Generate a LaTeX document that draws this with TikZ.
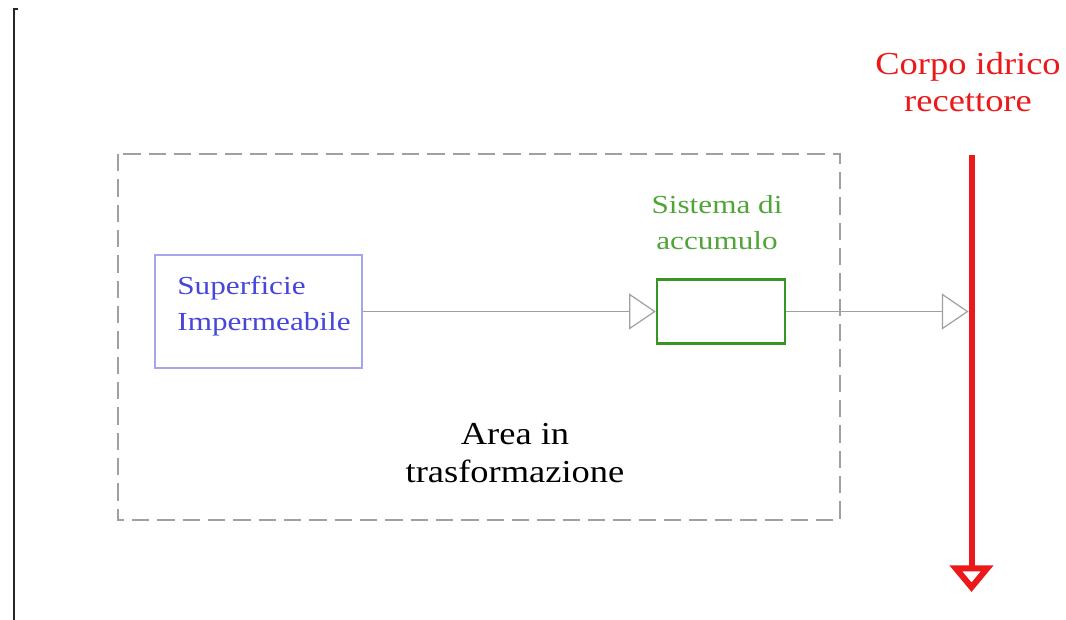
\documentclass[tikz,border=0pt]{standalone}
\usepackage{fontspec}
\setmainfont{Liberation Serif}
\usetikzlibrary{arrows.meta}
\definecolor{bluetxt}{RGB}{70,70,220}
\definecolor{bluebox}{RGB}{165,165,235}
\definecolor{greentxt}{RGB}{80,165,55}
\definecolor{greenbox}{RGB}{55,150,35}
\definecolor{redc}{RGB}{235,25,25}
\definecolor{grayline}{RGB}{160,160,160}
\newcommand\wideA[1]{\scalebox{1.2}[1]{#1}}
\newcommand\wideB[1]{\scalebox{1.14}[1]{#1}}
\begin{document}
\begin{tikzpicture}[x=0.75pt,y=-0.75pt,
  smalltxt/.style={font=\fontsize{19.5}{27}\selectfont, inner sep=0pt},
  bigtxt/.style={font=\fontsize{24}{28}\selectfont, inner sep=0pt, align=center},
  flow/.style={draw=grayline, line width=0.9pt,
    -{Triangle[open, length=20pt, width=27pt, line width=0.9pt]}},
]
\useasboundingbox (0,0) rectangle (1066,620);
\fill[white] (0,0) rectangle (1066,620);
% left border line
\draw[line width=1.5pt, black!85] (13.5,620) -- (13.5,9) -- (18,9);
% dashed area
\draw[grayline, line width=1pt, dash pattern=on 13pt off 6pt] (118,154) rectangle (840,520);
% blue box
\node[draw=bluebox, line width=1pt, minimum width=155.25pt, minimum height=84.75pt, inner sep=0pt] (sup) at (258.5,311.5) {};
\node[smalltxt, text=bluetxt, align=left] (suptxt) at (264,306) {\wideA{Superficie}\\\wideA{Impermeabile}};
% green box
\node[draw=greenbox, line width=1.9pt, minimum width=96pt, minimum height=48pt, inner sep=0pt] (acc) at (721,311.5) {};
\node[smalltxt, text=greentxt, align=center] (acctxt) at (717,223) {\wideA{Sistema di}\\\wideA{accumulo}};
% red receiving body
\coordinate (rtop) at (971.5,155);
\coordinate (rbot) at (971.5,592);
\coordinate (hit) at (968.5,311.5);
\draw[redc, line width=4.5pt, -{Triangle[open, length=20pt, width=32pt]}] (rtop) -- (rbot);
\node[bigtxt, text=redc] (corpo) at (968,82) {\wideB{Corpo idrico}\\\wideB{recettore}};
% connectors
\draw[flow] (sup.east) -- (acc.west);
\draw[flow] (acc.east) -- (hit);
% area label
\node[bigtxt] (area) at (515,453) {\wideB{Area in}\\\wideB{trasformazione}};
\end{tikzpicture}
\end{document}
